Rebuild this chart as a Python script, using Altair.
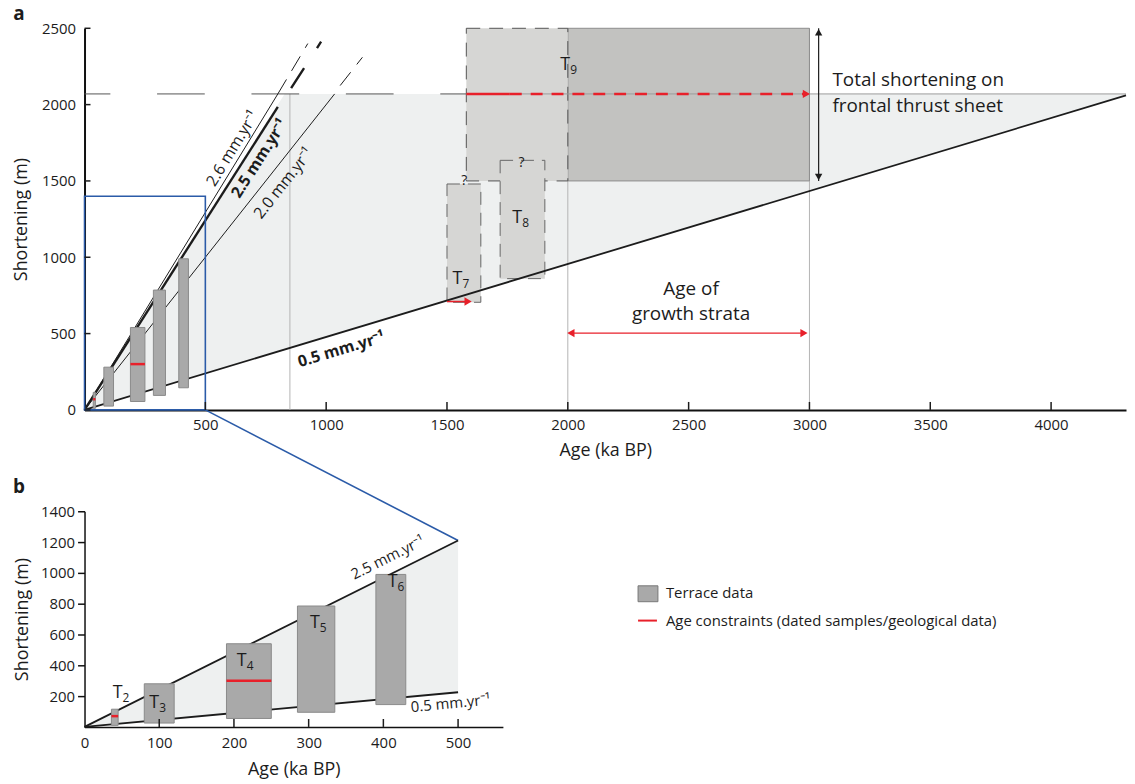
import altair as alt
import pandas as pd

FONT = "Open Sans"
INK = "#1c1c1c"
RED = "#e8202a"
BLUE = "#2b5ba8"
TERR_FILL = "#a9a9a9"
TERR_STROKE = "#8a8a8a"
PALE_FILL = "#d6d6d4"
DARK_BOX = "#c2c2c0"
SHADE = "#eef0f0"

# ---------------- axis ticks ----------------
xa_ticks = [500, 1000, 1500, 2000, 2500, 3000, 3500, 4000]
ya_ticks = [0, 500, 1000, 1500, 2000, 2500]
xb_ticks = [0, 100, 200, 300, 400, 500]
xb_inner_ticks = [100, 200, 300, 400, 500]
yb_ticks = [200, 400, 600, 800, 1000, 1200, 1400]

# ---------------- terraces T2-T6 (age ka, shortening m) ----------------
terr_sub = ["2", "3", "4", "5", "6"]
terr_age_lo = [36, 80, 190, 285, 390]
terr_age_hi = [45, 120, 250, 335, 430]
terr_sh_lo = [10, 25, 55, 95, 145]
terr_sh_hi = [115, 280, 540, 785, 990]
# label anchors in panel b
terr_lab_age = [51, 100, 217, 315, 419]
terr_lab_sh = [222, 157, 426, 674, 943]

# age constraints (red bars)
con_age_lo = [36, 190]
con_age_hi = [45, 250]
con_sh = [70, 300]

# ---------------- uncertain terraces T7, T8 ----------------
unc_sub = ["7", "8"]
unc_age_lo = [1500, 1720]
unc_age_hi = [1640, 1905]
unc_sh_lo = [705, 860]
unc_sh_hi = [1480, 1635]
unc_lab_age = [1564, 1811]
unc_lab_sh = [858, 1260]
unc_q_age = [1571, 1808]
unc_q_sh = [1499, 1619]

# ---------------- T9 ----------------
t9_age_lo = [1580, 2000]
t9_age_hi = [2000, 3000]
t9_sh_lo = [1500, 1500]
t9_sh_hi = [2500, 2500]
t9_lab_age = [2010]
t9_lab_sh = [2260]

# total shortening on frontal thrust sheet
total_sh = [2070]
age_max_a = [4310]

# shaded envelope panel a
shade_a_age = [0, 828, 4310]
shade_a_top = [0, 2070, 2070]
shade_a_bot = [0, 396, 2060]

# thin vertical guides
guide_age = [850, 2000, 3000]
guide_top = [2070, 2500, 2500]

# rate lines panel a (solid part, from origin)
rate_name = ["2.6", "2.5", "2.0", "0.5"]
rate_end_age = [800, 800, 1035, 4310]
rate_end_sh = [2070, 1985, 2070, 2060]
# dashed extensions
ext_name = ["2.6", "2.5", "2.0"]
ext_age0 = [800, 855, 1058]
ext_sh0 = [2070, 2108, 2125]
ext_age1 = [924, 979, 1150]
ext_sh1 = [2400, 2412, 2310]

# rate labels panel a
rate_lab_text = ["2.6 mm.yr⁻¹", "2.5 mm.yr⁻¹", "2.0 mm.yr⁻¹", "0.5 mm.yr⁻¹"]
rate_lab_age = [613, 724, 824, 1063]
rate_lab_sh = [1712, 1647, 1484, 395]

# arrows panel a
red_solid_age = [1580, 1760]
red_dash_age = [1760, 2975]
t7_arrow_age = [1500, 1575]
t7_arrow_sh = [710]
growth_age = [2025, 2965]
growth_sh = [503]
total_arrow_age = [3038]
total_arrow_sh = [1500, 2500]

# annotations
note1 = ["Total shortening on", "frontal thrust sheet"]
note1_age = [3095, 3095]
note1_sh = [2158, 1993]
note2 = ["Age of", "growth strata"]
note2_age = [2510, 2510]
note2_sh = [792, 630]
panel_letters = ["a", "b"]

# zoom box
zoom_age = [0, 500]
zoom_sh = [0, 1400]

# panel b
age_max_b = [560]
sh_max_b = [1400]
shade_b_age = [0, 500]
shade_b_top = [0, 1210]
shade_b_bot = [0, 225]
rate_b_text = ["2.5 mm.yr⁻¹", "0.5 mm.yr⁻¹"]
rate_b_end_age = [500, 500]
rate_b_end_sh = [1210, 225]
rate_b_lab_age = [406, 490]
rate_b_lab_sh = [1100, 153]

legend_labels = ["Terrace data", "Age constraints (dated samples/geological data)"]

# ---------------- geometry ----------------
WA, HA = 1048, 384
WB, HB = 421, 217
SPACING = 102

AX_XA = alt.Axis(values=xa_ticks, title="Age (ka BP)", ticks=False, labelPadding=8, format="d",
                 titlePadding=9, domainWidth=2, labelFlush=False, grid=False)
AX_YA = alt.Axis(values=ya_ticks, title="Shortening (m)", ticks=False, labelPadding=9, format="d",
                 titlePadding=11, domainWidth=2, grid=False)
AX_XB = alt.Axis(values=xb_ticks, title="Age (ka BP)", ticks=False, labelPadding=9, format="d",
                 titlePadding=10, domainWidth=1.5, labelFlush=False, grid=False)
AX_YB = alt.Axis(values=yb_ticks, title="Shortening (m)", tickSize=7, tickWidth=1.5, format="d",
                 tickColor="#111", labelPadding=3, titlePadding=9, domainWidth=1.5, grid=False)

SXA = alt.Scale(domain=[0, age_max_a[0]], nice=False)
SYA = alt.Scale(domain=[0, 2500], nice=False)
SXB = alt.Scale(domain=[0, age_max_b[0]], nice=False)
SYB = alt.Scale(domain=[0, sh_max_b[0]], nice=False)


def xa(f):
    return alt.X(f"{f}:Q", scale=SXA, axis=AX_XA)


def ya(f):
    return alt.Y(f"{f}:Q", scale=SYA, axis=AX_YA)


def xb(f):
    return alt.X(f"{f}:Q", scale=SXB, axis=AX_XB)


def yb(f):
    return alt.Y(f"{f}:Q", scale=SYB, axis=AX_YB)


def df(**cols):
    return pd.DataFrame(cols)


def text_layer(data, X, Y, **kw):
    base = dict(font=FONT, color=INK)
    base.update(kw)
    return alt.Chart(data).mark_text(**base).encode(x=X("x"), y=Y("y"), text="t:N")


def terrace_layers(X, Y):
    terr = df(x=terr_age_lo, x2=terr_age_hi, y=terr_sh_lo, y2=terr_sh_hi)
    con = df(x=con_age_lo, x2=con_age_hi, y=con_sh)
    return [
        alt.Chart(terr).mark_rect(fill=TERR_FILL, stroke=TERR_STROKE, strokeWidth=1).encode(
            x=X("x"), x2=alt.X2("x2"), y=Y("y"), y2=alt.Y2("y2")),
        alt.Chart(con).mark_rule(color=RED, strokeWidth=2.5).encode(
            x=X("x"), x2=alt.X2("x2"), y=Y("y")),
    ]


# ================= panel a =================
LA = []
LA.append(alt.Chart(df(x=shade_a_age, y=shade_a_top, y2=shade_a_bot)).mark_area(color=SHADE).encode(
    x=xa("x"), y=ya("y"), y2=alt.Y2("y2")))
LA.append(alt.Chart(df(x=guide_age, y=[0] * len(guide_age), y2=guide_top)).mark_rule(
    color="#b3b3b3", strokeWidth=1).encode(x=xa("x"), y=ya("y"), y2=alt.Y2("y2")))

t9 = df(x=t9_age_lo, x2=t9_age_hi, y=t9_sh_lo, y2=t9_sh_hi)
LA.append(alt.Chart(t9.iloc[[1]]).mark_rect(fill=DARK_BOX, stroke="#8c8c8c", strokeWidth=1).encode(
    x=xa("x"), x2=alt.X2("x2"), y=ya("y"), y2=alt.Y2("y2")))
LA.append(alt.Chart(t9.iloc[[0]]).mark_rect(fill=PALE_FILL, stroke="#555", strokeWidth=1,
                                            strokeDash=[14, 9]).encode(
    x=xa("x"), x2=alt.X2("x2"), y=ya("y"), y2=alt.Y2("y2")))

# total shortening level
LA.append(alt.Chart(df(x=[0], x2=[t9_age_lo[0]], y=total_sh)).mark_rule(
    color="#555", strokeWidth=1, strokeDash=[48, 47], strokeDashOffset=22).encode(
    x=xa("x"), x2=alt.X2("x2"), y=ya("y")))
LA.append(alt.Chart(df(x=[t9_age_lo[0]], x2=age_max_a, y=total_sh)).mark_rule(
    color="#9a9a9a", strokeWidth=1).encode(x=xa("x"), x2=alt.X2("x2"), y=ya("y")))

# uncertain terraces
unc = df(x=unc_age_lo, x2=unc_age_hi, y=unc_sh_lo, y2=unc_sh_hi)
LA.append(alt.Chart(unc).mark_rect(fill=PALE_FILL, stroke="#666", strokeWidth=1, strokeDash=[13, 8]).encode(
    x=xa("x"), x2=alt.X2("x2"), y=ya("y"), y2=alt.Y2("y2")))

# rate lines
rates = df(name=rate_name, x=[0] * 4, y=[0] * 4, x2=rate_end_age, y2=rate_end_sh)
thin = rates[rates["name"].isin(["2.6", "2.0"])]
thick = rates[rates["name"] == "2.5"]
low = rates[rates["name"] == "0.5"]
LA.append(alt.Chart(thin).mark_rule(color=INK, strokeWidth=1).encode(
    x=xa("x"), x2=alt.X2("x2"), y=ya("y"), y2=alt.Y2("y2")))
LA.append(alt.Chart(thick).mark_rule(color=INK, strokeWidth=2.4).encode(
    x=xa("x"), x2=alt.X2("x2"), y=ya("y"), y2=alt.Y2("y2")))
LA.append(alt.Chart(low).mark_rule(color=INK, strokeWidth=1.8).encode(
    x=xa("x"), x2=alt.X2("x2"), y=ya("y"), y2=alt.Y2("y2")))
ext = df(name=ext_name, x=ext_age0, y=ext_sh0, x2=ext_age1, y2=ext_sh1)
LA.append(alt.Chart(ext[ext["name"] != "2.5"]).mark_rule(color=INK, strokeWidth=1, strokeDash=[17, 10]).encode(
    x=xa("x"), x2=alt.X2("x2"), y=ya("y"), y2=alt.Y2("y2")))
LA.append(alt.Chart(ext[ext["name"] == "2.5"]).mark_rule(color=INK, strokeWidth=2.4, strokeDash=[24, 24]).encode(
    x=xa("x"), x2=alt.X2("x2"), y=ya("y"), y2=alt.Y2("y2")))

# terraces
LA += terrace_layers(xa, ya)

# zoom box and its connector to panel b's (500 ka, 2.5 mm/yr) corner
LA.append(alt.Chart(df(x=[zoom_age[0]], x2=[zoom_age[1]], y=[zoom_sh[0]], y2=[zoom_sh[1]])).mark_rect(
    filled=False, stroke=BLUE, strokeWidth=1.6).encode(x=xa("x"), x2=alt.X2("x2"), y=ya("y"), y2=alt.Y2("y2")))
LA.append(alt.Chart(df(x=[zoom_age[1]], y=[zoom_sh[0]])).mark_rule(color=BLUE, strokeWidth=1.6).encode(
    x=xa("x"), y=ya("y"),
    x2=alt.value(rate_b_end_age[0] * WB / age_max_b[0]),
    y2=alt.value(HA + SPACING + HB * (1 - rate_b_end_sh[0] / sh_max_b[0]))))

# red arrows
LA.append(alt.Chart(df(x=[red_solid_age[0]], x2=[red_solid_age[1]], y=total_sh)).mark_rule(
    color=RED, strokeWidth=2.5).encode(x=xa("x"), x2=alt.X2("x2"), y=ya("y")))
LA.append(alt.Chart(df(x=[red_dash_age[0]], x2=[red_dash_age[1]], y=total_sh)).mark_rule(
    color=RED, strokeWidth=2.5, strokeDash=[12, 9]).encode(x=xa("x"), x2=alt.X2("x2"), y=ya("y")))
LA.append(alt.Chart(df(x=[t7_arrow_age[0]], x2=[t7_arrow_age[1]], y=t7_arrow_sh)).mark_rule(
    color=RED, strokeWidth=1.5).encode(x=xa("x"), x2=alt.X2("x2"), y=ya("y")))
LA.append(alt.Chart(df(x=[growth_age[0]], x2=[growth_age[1]], y=growth_sh)).mark_rule(
    color=RED, strokeWidth=1.5).encode(x=xa("x"), x2=alt.X2("x2"), y=ya("y")))
heads_r = df(x=[red_dash_age[1], t7_arrow_age[1], growth_age[1]], y=[total_sh[0], t7_arrow_sh[0], growth_sh[0]])
LA.append(alt.Chart(heads_r).mark_point(shape="triangle-right", filled=True, size=70, color=RED,
                                        opacity=1, xOffset=3).encode(x=xa("x"), y=ya("y")))
LA.append(alt.Chart(df(x=[growth_age[0]], y=growth_sh)).mark_point(
    shape="triangle-left", filled=True, size=70, color=RED, opacity=1, xOffset=-3).encode(x=xa("x"), y=ya("y")))

# black double arrow
LA.append(alt.Chart(df(x=total_arrow_age, y=[total_arrow_sh[0]], y2=[total_arrow_sh[1]])).mark_rule(
    color=INK, strokeWidth=1.2).encode(x=xa("x"), y=ya("y"), y2=alt.Y2("y2")))
LA.append(alt.Chart(df(x=total_arrow_age, y=[total_arrow_sh[1]])).mark_point(
    shape="triangle-up", filled=True, size=55, color=INK, opacity=1, yOffset=4).encode(x=xa("x"), y=ya("y")))
LA.append(alt.Chart(df(x=total_arrow_age, y=[total_arrow_sh[0]])).mark_point(
    shape="triangle-down", filled=True, size=55, color=INK, opacity=1, yOffset=-4).encode(x=xa("x"), y=ya("y")))

# inward ticks
LA.append(alt.Chart(df(x=xa_ticks)).mark_rule(color=INK, strokeWidth=1.5).encode(
    x=xa("x"), y=alt.value(HA), y2=alt.value(HA - 8)))
LA.append(alt.Chart(df(y=ya_ticks)).mark_rule(color=INK, strokeWidth=1.5).encode(
    y=ya("y"), x=alt.value(0), x2=alt.value(6)))

# texts
rl = df(t=rate_lab_text, x=rate_lab_age, y=rate_lab_sh)
LA.append(text_layer(rl.iloc[[0]], xa, ya, angle=301.5, fontSize=16))
LA.append(text_layer(rl.iloc[[1]], xa, ya, angle=302.7, fontSize=16, fontWeight="bold"))
LA.append(text_layer(rl.iloc[[2]], xa, ya, angle=308.3, fontSize=16))
LA.append(text_layer(rl.iloc[[3]], xa, ya, angle=343.3, fontSize=16, fontWeight="bold"))
LA.append(text_layer(df(t=note1, x=note1_age, y=note1_sh), xa, ya, align="left", fontSize=19))
LA.append(text_layer(df(t=note2, x=note2_age, y=note2_sh), xa, ya, align="center", fontSize=19))
LA.append(text_layer(df(t=["?", "?"], x=unc_q_age, y=unc_q_sh), xa, ya, fontSize=14))
tl_a = df(t=unc_sub + ["9"], x=unc_lab_age + t9_lab_age, y=unc_lab_sh + t9_lab_sh)
LA.append(alt.Chart(tl_a).mark_text(font=FONT, color=INK, fontSize=18, align="right").encode(
    x=xa("x"), y=ya("y"), text=alt.value("T")))
LA.append(alt.Chart(tl_a).mark_text(font=FONT, color=INK, fontSize=12, align="left", dy=5).encode(
    x=xa("x"), y=ya("y"), text="t:N"))
LA.append(alt.Chart(df(t=[panel_letters[0]])).mark_text(
    font=FONT, color=INK, fontSize=19, fontWeight="bold", baseline="alphabetic").encode(
    x=alt.value(-66), y=alt.value(-8), text="t:N"))

panel_a = alt.layer(*LA).properties(width=WA, height=HA)

# ================= panel b =================
LB = []
LB.append(alt.Chart(df(x=shade_b_age, y=shade_b_top, y2=shade_b_bot)).mark_area(color=SHADE).encode(
    x=xb("x"), y=yb("y"), y2=alt.Y2("y2")))
LB.append(alt.Chart(df(x=[0, 0], y=[0, 0], x2=rate_b_end_age, y2=rate_b_end_sh)).mark_rule(
    color=INK, strokeWidth=1.8).encode(x=xb("x"), x2=alt.X2("x2"), y=yb("y"), y2=alt.Y2("y2")))
LB += terrace_layers(xb, yb)
# inward x ticks
LB.append(alt.Chart(df(x=xb_inner_ticks)).mark_rule(color=INK, strokeWidth=1.5).encode(
    x=xb("x"), y=alt.value(HB), y2=alt.value(HB - 8)))
rb = df(t=rate_b_text, x=rate_b_lab_age, y=rate_b_lab_sh)
LB.append(text_layer(rb.iloc[[0]], xb, yb, angle=333.5, fontSize=15))
LB.append(text_layer(rb.iloc[[1]], xb, yb, angle=354.5, fontSize=15))
tl_b = df(t=terr_sub, x=terr_lab_age, y=terr_lab_sh)
LB.append(alt.Chart(tl_b).mark_text(font=FONT, color=INK, fontSize=18, align="right").encode(
    x=xb("x"), y=yb("y"), text=alt.value("T")))
LB.append(alt.Chart(tl_b).mark_text(font=FONT, color=INK, fontSize=12, align="left", dy=5).encode(
    x=xb("x"), y=yb("y"), text="t:N"))
LB.append(alt.Chart(df(t=[panel_letters[1]])).mark_text(
    font=FONT, color=INK, fontSize=19, fontWeight="bold", baseline="alphabetic").encode(
    x=alt.value(-66), y=alt.value(-18), text="t:N"))
# legend
LB.append(alt.Chart(df(t=[legend_labels[0]])).mark_rect(fill=TERR_FILL, stroke="#777", strokeWidth=1).encode(
    x=alt.value(557), x2=alt.value(577), y=alt.value(75), y2=alt.value(91)))
LB.append(alt.Chart(df(t=[legend_labels[1]])).mark_rule(color=RED, strokeWidth=2).encode(
    x=alt.value(557), x2=alt.value(576), y=alt.value(110)))
LB.append(alt.Chart(df(t=[legend_labels[0]])).mark_text(font=FONT, color=INK, fontSize=15, align="left").encode(
    x=alt.value(585), y=alt.value(82), text="t:N"))
LB.append(alt.Chart(df(t=[legend_labels[1]])).mark_text(font=FONT, color=INK, fontSize=15, align="left").encode(
    x=alt.value(585), y=alt.value(110), text="t:N"))

panel_b = alt.layer(*LB).properties(width=WB, height=HB)

chart = alt.vconcat(panel_a, panel_b, spacing=SPACING, bounds="flush").properties(
    padding={"left": 4, "top": -5, "right": 0, "bottom": 0}
).configure_view(strokeWidth=0).configure_axis(
    labelFont=FONT, titleFont=FONT, labelFontSize=15, titleFontSize=18, titleFontWeight="normal",
    labelColor=INK, titleColor=INK, domainColor="#111", grid=False
)

chart.save("out.html", embed_options={"renderer": "svg", "actions": False})
